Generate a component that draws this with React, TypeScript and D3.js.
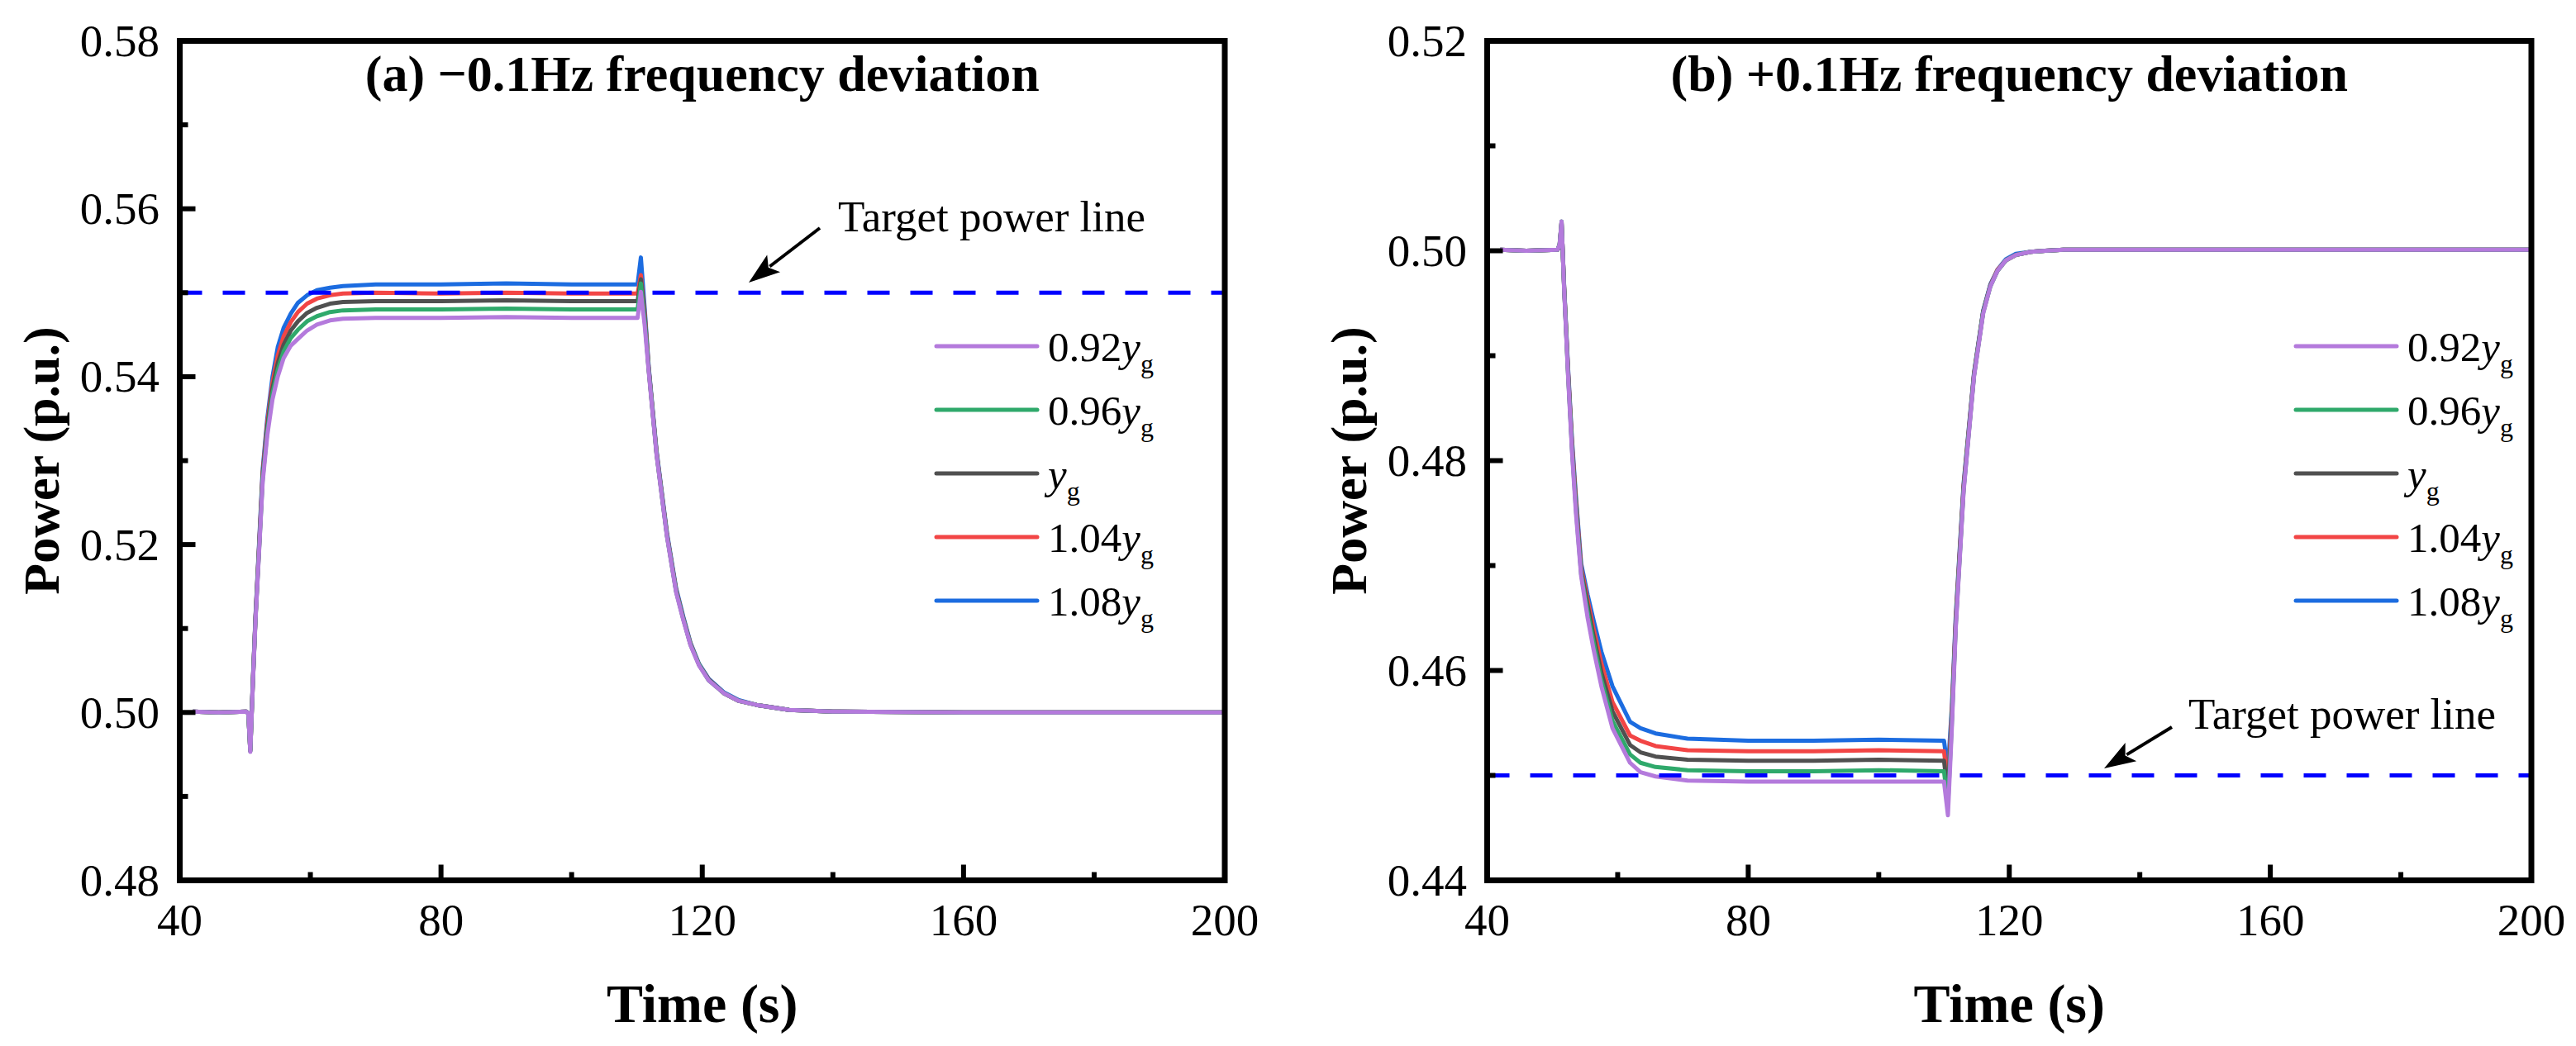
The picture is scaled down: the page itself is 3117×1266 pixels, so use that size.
import React, { useEffect, useRef } from 'react';
import * as d3 from 'd3';

const WIDTH = 3117;
const HEIGHT = 1266;

// legend labels (coefficient in front of y_g) and colours, in legend order
const seriesCoeffs = ['0.92', '0.96', '', '1.04', '1.08'];
const seriesColors = ['#B47ADC', '#2FA96B', '#505050', '#F24545', '#1C6CE0'];

const xTicks = [40, 80, 120, 160, 200];
const xMinorTicks = [60, 100, 140, 180];

const yTicksA = [0.48, 0.5, 0.52, 0.54, 0.56, 0.58];
const yMinorTicksA = [0.49, 0.51, 0.53, 0.55, 0.57];
const yTicksB = [0.44, 0.46, 0.48, 0.5, 0.52];
const yMinorTicksB = [0.45, 0.47, 0.49, 0.51];

// (a) -0.1Hz
const timeA = [42, 46, 50.2, 50.5, 50.8, 51.2, 51.6, 52.2, 52.7, 53.4, 54.2, 55.0, 55.9, 57.0, 58.1, 59.5, 61.0, 63.0, 65.0, 70, 80, 90, 100, 110.1, 110.6, 111.2, 111.8, 113.0, 114.6, 116.0, 117.1, 118.2, 119.5, 121.0, 123.3, 125.5, 128.3, 133.3, 140, 160, 200];
const powerA092 = [0.5001, 0.5, 0.5001, 0.4999, 0.4953, 0.5035, 0.511, 0.52, 0.5275, 0.533, 0.5373, 0.54, 0.5422, 0.5437, 0.5445, 0.5455, 0.5462, 0.5467, 0.5469, 0.547, 0.547, 0.5471, 0.547, 0.547, 0.5501, 0.546, 0.5406, 0.5307, 0.5209, 0.5143, 0.511, 0.508, 0.5056, 0.5038, 0.5023, 0.5014, 0.5009, 0.5003, 0.5001, 0.5, 0.5];
const powerA096 = [0.5001, 0.5, 0.5001, 0.4999, 0.4954, 0.5036, 0.5112, 0.5202, 0.5279, 0.5335, 0.538, 0.5408, 0.543, 0.5446, 0.5456, 0.5466, 0.5472, 0.5477, 0.5479, 0.548, 0.548, 0.5481, 0.548, 0.548, 0.5511, 0.5466, 0.5408, 0.5308, 0.521, 0.5144, 0.5111, 0.5081, 0.5057, 0.5038, 0.5023, 0.5014, 0.5009, 0.5003, 0.5001, 0.5, 0.5];
const powerA100 = [0.5001, 0.5, 0.5001, 0.4999, 0.4954, 0.5037, 0.5113, 0.5205, 0.5283, 0.534, 0.5386, 0.5416, 0.5438, 0.5455, 0.5466, 0.5476, 0.5482, 0.5487, 0.5489, 0.549, 0.549, 0.5491, 0.549, 0.549, 0.5516, 0.5471, 0.5409, 0.5309, 0.5211, 0.5145, 0.5112, 0.5081, 0.5057, 0.5039, 0.5023, 0.5014, 0.5009, 0.5003, 0.5001, 0.5, 0.5];
const powerA104 = [0.5001, 0.5, 0.5001, 0.4999, 0.4955, 0.5038, 0.5114, 0.5207, 0.5286, 0.5345, 0.5393, 0.5425, 0.5448, 0.5465, 0.5477, 0.5487, 0.5493, 0.5497, 0.5499, 0.55, 0.5499, 0.55, 0.5499, 0.5499, 0.5521, 0.5475, 0.541, 0.531, 0.5212, 0.5146, 0.5112, 0.5082, 0.5057, 0.5039, 0.5023, 0.5014, 0.5009, 0.5003, 0.5001, 0.5, 0.5];
const powerA108 = [0.5001, 0.5, 0.5001, 0.4999, 0.4955, 0.504, 0.5115, 0.521, 0.529, 0.535, 0.54, 0.5435, 0.5458, 0.5475, 0.5488, 0.5497, 0.5503, 0.5506, 0.5508, 0.551, 0.551, 0.5511, 0.551, 0.551, 0.5542, 0.548, 0.5412, 0.5312, 0.5214, 0.5148, 0.5114, 0.5083, 0.5058, 0.504, 0.5024, 0.5015, 0.5009, 0.5003, 0.5001, 0.5, 0.5];

// (b) +0.1Hz
const timeB = [42, 46, 50.8, 51.1, 51.4, 51.8, 52.4, 53.0, 53.6, 54.4, 55.4, 56.3, 57.5, 59.2, 61.9, 63.5, 65.8, 70.7, 80, 90, 100, 110.0, 110.6, 111.2, 111.8, 113.0, 114.6, 116.0, 117.1, 118.2, 119.5, 121.0, 123.3, 125.5, 128.3, 133.3, 140, 160, 200];
const powerB092 = [0.5001, 0.5, 0.5001, 0.5006, 0.5028, 0.4962, 0.488, 0.4808, 0.475, 0.469, 0.465, 0.462, 0.4585, 0.4545, 0.4512, 0.4503, 0.4499, 0.4495, 0.4494, 0.4494, 0.4494, 0.4494, 0.4462, 0.4545, 0.464, 0.477, 0.488, 0.494, 0.4966, 0.4981, 0.4991, 0.4996, 0.4999, 0.5, 0.5001, 0.5001, 0.5001, 0.5001, 0.5001];
const powerB096 = [0.5001, 0.5, 0.5001, 0.5006, 0.5028, 0.4963, 0.4882, 0.4811, 0.4754, 0.4692, 0.4656, 0.4627, 0.4591, 0.4552, 0.452, 0.4512, 0.4508, 0.4505, 0.4504, 0.4504, 0.4505, 0.4504, 0.4472, 0.455, 0.4643, 0.4772, 0.4881, 0.4941, 0.4966, 0.4981, 0.4991, 0.4996, 0.4999, 0.5, 0.5001, 0.5001, 0.5001, 0.5001, 0.5001];
const powerB100 = [0.5001, 0.5, 0.5001, 0.5006, 0.5027, 0.4964, 0.4884, 0.4814, 0.4758, 0.4695, 0.4662, 0.4633, 0.4598, 0.4561, 0.4529, 0.4522, 0.4518, 0.4515, 0.4514, 0.4514, 0.4515, 0.4514, 0.4482, 0.4555, 0.4646, 0.4774, 0.4882, 0.4942, 0.4967, 0.4981, 0.4991, 0.4996, 0.4999, 0.5, 0.5001, 0.5001, 0.5001, 0.5001, 0.5001];
const powerB104 = [0.5001, 0.5, 0.5001, 0.5005, 0.5027, 0.4965, 0.4886, 0.4817, 0.4762, 0.4698, 0.4667, 0.464, 0.4607, 0.457, 0.4538, 0.4533, 0.4528, 0.4524, 0.4523, 0.4523, 0.4524, 0.4523, 0.4491, 0.456, 0.4649, 0.4776, 0.4883, 0.4942, 0.4967, 0.4982, 0.4991, 0.4996, 0.4999, 0.5, 0.5001, 0.5001, 0.5001, 0.5001, 0.5001];
const powerB108 = [0.5001, 0.5, 0.5001, 0.5005, 0.5026, 0.4966, 0.4888, 0.482, 0.4766, 0.4702, 0.4672, 0.4648, 0.4618, 0.4585, 0.4551, 0.4545, 0.454, 0.4535, 0.4533, 0.4533, 0.4534, 0.4533, 0.4505, 0.4565, 0.4652, 0.4778, 0.4884, 0.4943, 0.4968, 0.4982, 0.4992, 0.4997, 0.4999, 0.5, 0.5001, 0.5001, 0.5001, 0.5001, 0.5001];

const FONT = "'Liberation Serif', 'Times New Roman', serif";

const panels = [
  {
    id: 'a',
    left: 217.5,
    right: 1482,
    title: '(a) \u22120.1Hz frequency deviation',
    yDomain: [0.48, 0.58],
    yTicks: yTicksA,
    yMinor: yMinorTicksA,
    time: timeA,
    series: [powerA092, powerA096, powerA100, powerA104, powerA108],
    target: 0.55,
    legendX: 1133,
    note: { x: 1014, y: 280, tail: [992, 276], tip: [906, 342] },
  },
  {
    id: 'b',
    left: 1799.5,
    right: 3063,
    title: '(b) +0.1Hz frequency deviation',
    yDomain: [0.44, 0.52],
    yTicks: yTicksB,
    yMinor: yMinorTicksB,
    time: timeB,
    series: [powerB092, powerB096, powerB100, powerB104, powerB108],
    target: 0.45,
    legendX: 2778,
    note: { x: 2648, y: 882, tail: [2628, 880], tip: [2546, 930] },
  },
];

const TOP = 49.5;
const BOTTOM = 1065.5;

export default function App() {
  const svgRef = useRef<SVGSVGElement>(null);

  useEffect(() => {
    if (!svgRef.current) return;
    const svg = d3.select(svgRef.current);
    svg.selectAll('*').remove();

    svg.append('rect').attr('width', WIDTH).attr('height', HEIGHT).attr('fill', '#fff');

    panels.forEach((p) => {
      const x = d3.scaleLinear().domain([40, 200]).range([p.left, p.right]);
      const y = d3.scaleLinear().domain(p.yDomain).range([BOTTOM, TOP]);
      const g = svg.append('g');

      g.append('clipPath')
        .attr('id', `clip-${p.id}`)
        .append('rect')
        .attr('x', p.left)
        .attr('y', TOP)
        .attr('width', p.right - p.left)
        .attr('height', BOTTOM - TOP);

      const plot = g.append('g').attr('clip-path', `url(#clip-${p.id})`);

      const line = d3
        .line<number>()
        .x((_, i) => x(p.time[i]))
        .y((d) => y(d));

      // 1.08 first so that 0.92 ends up on top
      for (let k = p.series.length - 1; k >= 0; k--) {
        plot
          .append('path')
          .attr('d', line(p.series[k]) || '')
          .attr('fill', 'none')
          .attr('stroke', seriesColors[k])
          .attr('stroke-width', 5)
          .attr('stroke-linejoin', 'round');
      }

      // target power line
      plot
        .append('line')
        .attr('x1', p.left)
        .attr('x2', p.right)
        .attr('y1', y(p.target))
        .attr('y2', y(p.target))
        .attr('stroke', '#0000FF')
        .attr('stroke-width', 5)
        .attr('stroke-dasharray', '27 25');

      // frame
      g.append('rect')
        .attr('x', p.left)
        .attr('y', TOP)
        .attr('width', p.right - p.left)
        .attr('height', BOTTOM - TOP)
        .attr('fill', 'none')
        .attr('stroke', '#000')
        .attr('stroke-width', 7);

      // ticks, pointing in
      xTicks.forEach((t) => {
        g.append('line').attr('x1', x(t)).attr('x2', x(t)).attr('y1', BOTTOM).attr('y2', BOTTOM - 19)
          .attr('stroke', '#000').attr('stroke-width', 6);
      });
      xMinorTicks.forEach((t) => {
        g.append('line').attr('x1', x(t)).attr('x2', x(t)).attr('y1', BOTTOM).attr('y2', BOTTOM - 10)
          .attr('stroke', '#000').attr('stroke-width', 6);
      });
      p.yTicks.forEach((t) => {
        g.append('line').attr('x1', p.left).attr('x2', p.left + 19).attr('y1', y(t)).attr('y2', y(t))
          .attr('stroke', '#000').attr('stroke-width', 6);
      });
      p.yMinor.forEach((t) => {
        g.append('line').attr('x1', p.left).attr('x2', p.left + 10).attr('y1', y(t)).attr('y2', y(t))
          .attr('stroke', '#000').attr('stroke-width', 6);
      });

      // tick labels
      g.selectAll('.xlab')
        .data(xTicks)
        .enter()
        .append('text')
        .attr('x', (d) => x(d))
        .attr('y', 1132)
        .attr('text-anchor', 'middle')
        .attr('font-family', FONT)
        .attr('font-size', 55)
        .text((d) => String(d));

      g.selectAll('.ylab')
        .data(p.yTicks)
        .enter()
        .append('text')
        .attr('x', p.left - 24.5)
        .attr('y', (d) => y(d) + 18.5)
        .attr('text-anchor', 'end')
        .attr('font-family', FONT)
        .attr('font-size', 55)
        .text((d) => d3.format('.2f')(d));

      // axis titles
      const cx = (p.left + p.right) / 2;
      g.append('text')
        .attr('x', cx)
        .attr('y', 1237)
        .attr('text-anchor', 'middle')
        .attr('font-family', FONT)
        .attr('font-weight', 'bold')
        .attr('font-size', 66)
        .text('Time (s)');

      const yl = p.left - 146.5;
      const cy = (TOP + BOTTOM) / 2;
      g.append('text')
        .attr('transform', `translate(${yl},${cy}) rotate(-90)`)
        .attr('text-anchor', 'middle')
        .attr('font-family', FONT)
        .attr('font-weight', 'bold')
        .attr('font-size', 62)
        .text('Power (p.u.)');

      // panel title
      g.append('text')
        .attr('x', cx)
        .attr('y', 110)
        .attr('text-anchor', 'middle')
        .attr('font-family', FONT)
        .attr('font-weight', 'bold')
        .attr('font-size', 62)
        .text(p.title);

      // legend
      seriesCoeffs.forEach((c, i) => {
        const ly = 419 + i * 77;
        g.append('line')
          .attr('x1', p.legendX)
          .attr('x2', p.legendX + 122)
          .attr('y1', ly)
          .attr('y2', ly)
          .attr('stroke', seriesColors[i])
          .attr('stroke-width', 5)
          .attr('stroke-linecap', 'round');
        const t = g.append('text')
          .attr('x', p.legendX + 135)
          .attr('y', ly + 18)
          .attr('font-family', FONT)
          .attr('font-size', 51);
        if (c) t.append('tspan').text(c);
        t.append('tspan').attr('font-style', 'italic').text('y');
        t.append('tspan').attr('font-size', 32).attr('dy', 14).text('g');
      });

      // annotation with arrow
      const n = p.note;
      g.append('text')
        .attr('x', n.x)
        .attr('y', n.y)
        .attr('font-family', FONT)
        .attr('font-size', 53)
        .text('Target power line');
      const dx = n.tip[0] - n.tail[0];
      const dy = n.tip[1] - n.tail[1];
      const len = Math.hypot(dx, dy);
      const ux = dx / len;
      const uy = dy / len;
      const head = 38;
      const half = 13;
      const bx = n.tip[0] - ux * head;
      const by = n.tip[1] - uy * head;
      g.append('line')
        .attr('x1', n.tail[0])
        .attr('y1', n.tail[1])
        .attr('x2', bx + ux * 6)
        .attr('y2', by + uy * 6)
        .attr('stroke', '#000')
        .attr('stroke-width', 4);
      g.append('path')
        .attr('d', `M${n.tip[0]},${n.tip[1]} L${bx - uy * half},${by + ux * half} L${bx + ux * 8},${by + uy * 8} L${bx + uy * half},${by - ux * half} Z`)
        .attr('fill', '#000');
    });
  }, []);

  return (
    <svg
      ref={svgRef}
      width={WIDTH}
      height={HEIGHT}
      style={{ position: 'absolute', left: 0, top: 0, display: 'block' }}
    />
  );
}
